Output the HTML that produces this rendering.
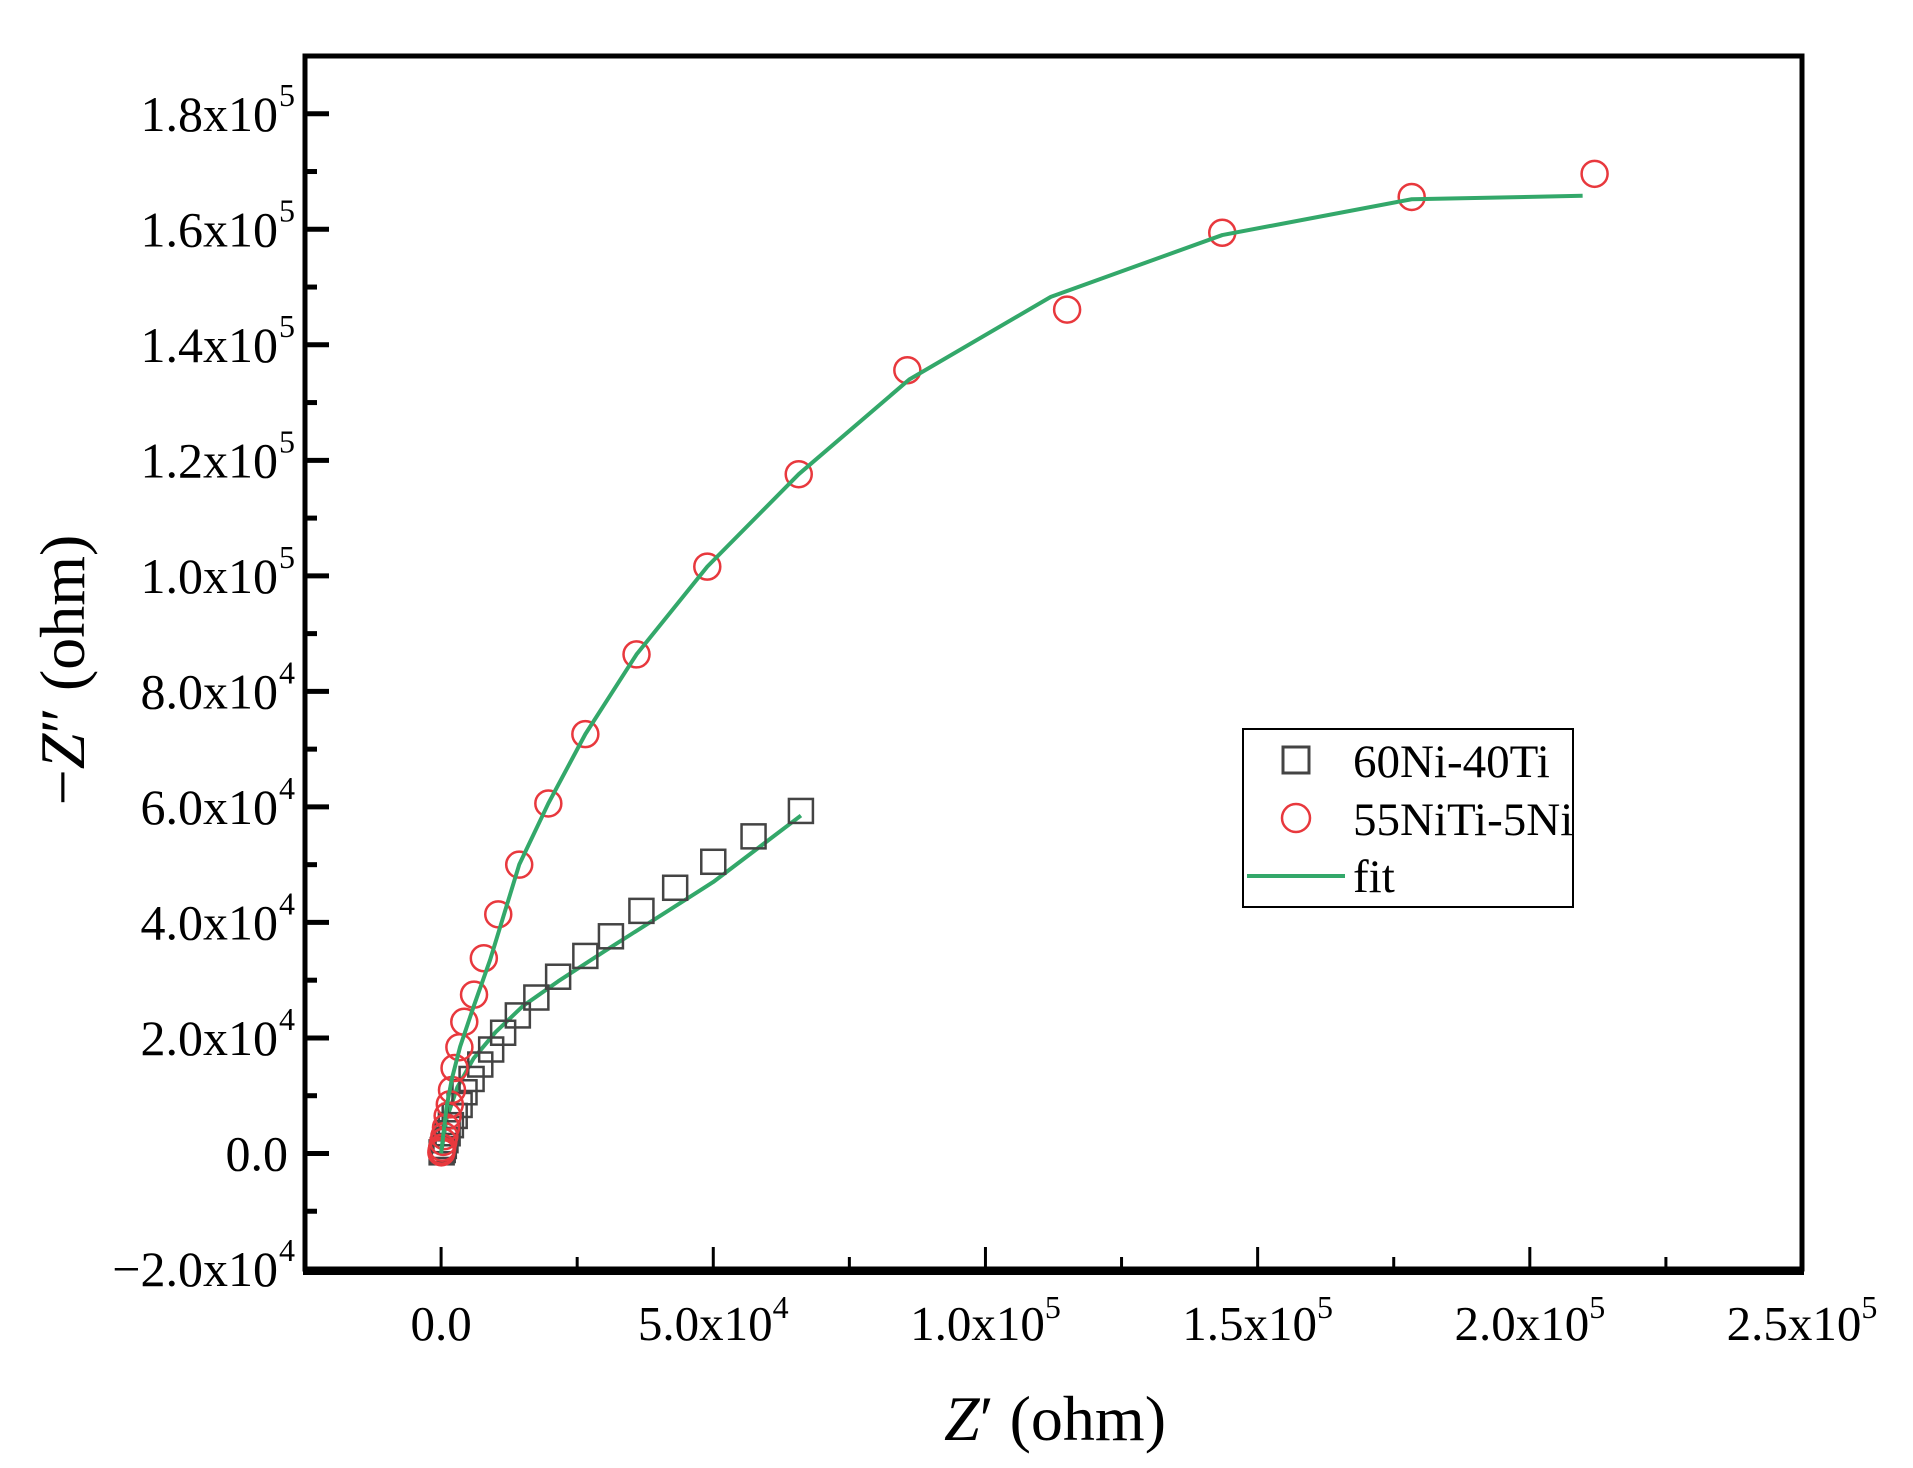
<!DOCTYPE html>
<html><head><meta charset="utf-8"><style>body{margin:0;background:#fff}svg{display:block;font-family:"Liberation Serif",serif}</style></head>
<body>
<svg id="chart" width="1913" height="1468" viewBox="0 0 1913 1468" xmlns="http://www.w3.org/2000/svg">
<g id="marks"></g>
<g id="axes"></g>
<text x="1055" y="1440" font-size="64" text-anchor="middle"><tspan font-style="italic">Z</tspan>′ (ohm)</text>
<text transform="translate(84,670) rotate(-90)" font-size="64" text-anchor="middle">−<tspan font-style="italic">Z</tspan>″ (ohm)</text>
<g>
<rect x="1243" y="729" width="330" height="178" fill="#fff" stroke="#000" stroke-width="2"/>
<rect x="1283" y="747" width="26" height="26" fill="none" stroke="#444" stroke-width="3"/>
<text x="1353" y="777" font-size="47">60Ni-40Ti</text>
<circle cx="1296" cy="818" r="14" fill="none" stroke="#e8383d" stroke-width="2.5"/>
<text x="1353" y="835" font-size="47">55NiTi-5Ni</text>
<line x1="1247" y1="876" x2="1345" y2="876" stroke="#33a86a" stroke-width="4"/>
<text x="1353" y="892" font-size="47">fit</text>
</g>
</svg>
<script>
const xTicks=[0,50000,100000,150000,200000,250000];
const xTickLabels=[["0.0",""],["5.0x10","4"],["1.0x10","5"],["1.5x10","5"],["2.0x10","5"],["2.5x10","5"]];
const yTicks=[-20000,0,20000,40000,60000,80000,100000,120000,140000,160000,180000];
const yTickLabels=[["−2.0x10","4"],["0.0",""],["2.0x10","4"],["4.0x10","4"],["6.0x10","4"],["8.0x10","4"],["1.0x10","5"],["1.2x10","5"],["1.4x10","5"],["1.6x10","5"],["1.8x10","5"]];
const redX=[211900,178300,143500,115000,85650,65700,48900,35900,26500,19700,14350,10500,7850,6050,4260,3360,2470,2000,1600,1200,900,600,400,200,100,50];
const redY=[169600,165600,159400,146100,135600,117600,101600,86400,72600,60600,50000,41400,33800,27500,22800,18400,14800,11000,8500,6500,4500,3000,2000,1000,500,200];
const blackX=[66100,57400,50000,43000,36800,31200,26500,21500,17500,14100,11400,9200,7200,5600,4300,3400,2500,1800,1200,800,500,300,100];
const blackY=[59300,54900,50500,46000,42000,37600,34200,30600,27000,23900,20900,18000,15400,12900,10600,8400,6500,4900,3500,2300,1300,600,200];
const fitRedX=[0,500,1000,2000,3500,6000,9000,14350,19700,26500,35900,48900,65700,86000,112000,143500,178300,209700];
const fitRedY=[0,4000,8000,13000,18500,25500,33500,50000,60600,72600,86400,101600,117600,134000,148300,159000,165200,165800];
const fitBlackX=[0,1000,3000,6000,10000,15000,21500,30000,40000,50000,66100];
const fitBlackY=[0,6000,11500,16500,21000,25500,29800,35000,41000,47000,58500];

const X0=305,X1=1802,Y0=56,Y1=1269,xmin=-25000,xmax=250000,ymin=-20000,ymax=190000;
const sx=v=>X0+(v-xmin)/(xmax-xmin)*(X1-X0);
const sy=v=>Y1-(v-ymin)/(ymax-ymin)*(Y1-Y0);
const NS="http://www.w3.org/2000/svg";
const marks=document.getElementById('marks'),axes=document.getElementById('axes');
function mk(tag,attrs,parent){const e=document.createElementNS(NS,tag);for(const k in attrs)e.setAttribute(k,attrs[k]);parent.appendChild(e);return e;}

let p=mk('polyline',{points:fitBlackX.map((x,i)=>sx(x)+','+sy(fitBlackY[i])).join(' '),fill:'none',stroke:'#33a86a','stroke-width':4,'stroke-linejoin':'round'},marks);


blackX.forEach((x,i)=>{const r=mk('rect',{x:sx(x)-12,y:sy(blackY[i])-12,width:24,height:24,fill:'none',stroke:'#444','stroke-width':2.5},marks);

});
redX.forEach((x,i)=>{const c=mk('circle',{cx:sx(x),cy:sy(redY[i]),r:13,fill:'none',stroke:'#e8383d','stroke-width':2.5},marks);

});
p=mk('polyline',{points:fitRedX.map((x,i)=>sx(x)+','+sy(fitRedY[i])).join(' '),fill:'none',stroke:'#33a86a','stroke-width':4,'stroke-linejoin':'round'},marks);



const fr=mk('rect',{x:X0,y:Y0,width:X1-X0,height:Y1-Y0,fill:'none',stroke:'#000','stroke-width':5},axes);


mk('line',{x1:X0-2,y1:Y1+2,x2:X1+2,y2:Y1+2,stroke:'#000','stroke-width':8},axes);
xTicks.forEach((v,i)=>{const x=sx(v);
const t=mk('line',{x1:x,y1:Y1,x2:x,y2:Y1-22,stroke:'#000','stroke-width':3},axes);


if(i<xTicks.length-1){const m=sx(v+25000);mk('line',{x1:m,y1:Y1,x2:m,y2:Y1-12,stroke:'#000','stroke-width':3},axes);}
const tx=mk('text',{x:x,y:1340,'font-size':49,'text-anchor':'middle'},axes);


tx.textContent=xTickLabels[i][0];
if(xTickLabels[i][1]){const s=mk('tspan',{dy:-22,'font-size':32},tx);s.textContent=xTickLabels[i][1];}
});
yTicks.forEach((v,i)=>{const y=sy(v);
const t=mk('line',{x1:X0,y1:y,x2:X0+24,y2:y,stroke:'#000','stroke-width':5},axes);


if(i<yTicks.length-1){const m=sy(v+10000);mk('line',{x1:m?X0:X0,y1:m,x2:X0+12,y2:m,stroke:'#000','stroke-width':5},axes);}
const sup=yTickLabels[i][1];
const tx=mk('text',{x:sup?278:288,y:y+17,'font-size':50,'text-anchor':'end'},axes);


tx.textContent=yTickLabels[i][0];
if(sup){const s=mk('text',{x:279,y:y-8,'font-size':32},axes);s.textContent=sup;

}
});
</script>
</body></html>
